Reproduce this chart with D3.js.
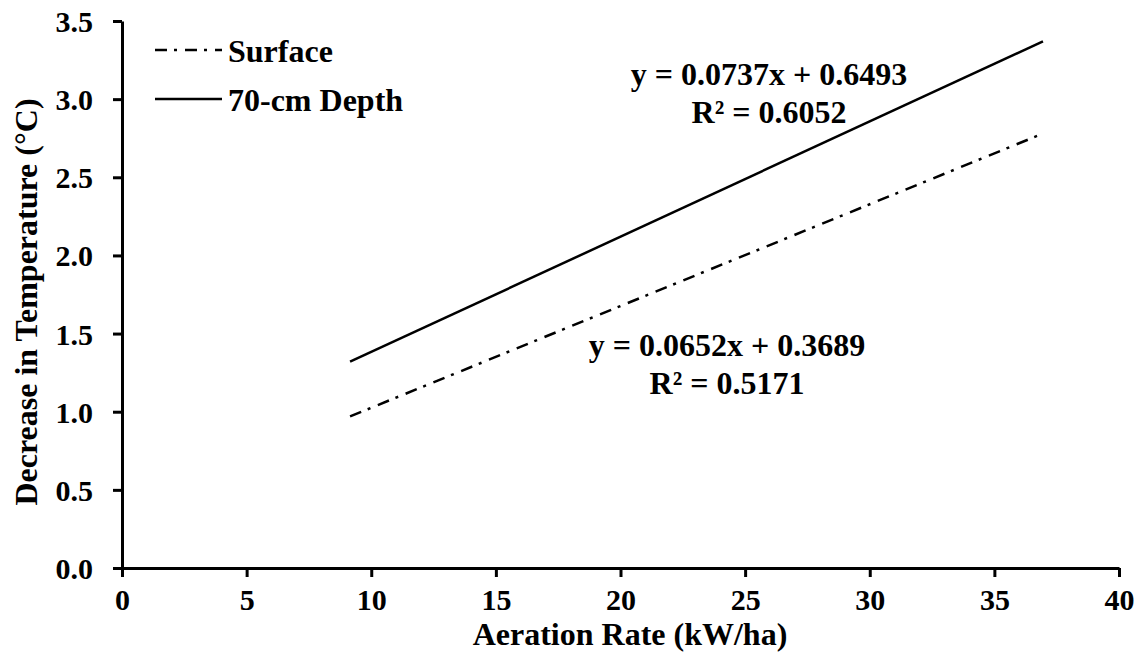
<!DOCTYPE html>
<html>
<head>
<meta charset="utf-8">
<script src="https://cdn.jsdelivr.net/npm/d3@7"></script>
<style>
  body { margin: 0; background: #fff; }
  text { font-family: "Liberation Serif", "Times New Roman", serif; font-weight: bold; fill: #000; }
</style>
</head>
<body>
<script>
// trend line end points
const aerationRate = [9.15, 36.95];
const surfaceDrop = [0.97, 2.78];
const depthDrop = [1.32, 3.37];
const xTicks = [0, 5, 10, 15, 20, 25, 30, 35, 40];
const yTicks = [0, 0.5, 1, 1.5, 2, 2.5, 3, 3.5];
const seriesNames = ['Surface', '70-cm Depth'];
const equations = [
  ['y = 0.0652x + 0.3689', 'R\u00b2 = 0.5171'],
  ['y = 0.0737x + 0.6493', 'R\u00b2 = 0.6052']
];

const width = 1144, height = 661;
const plotLeft = 122, plotRight = 1119, plotTop = 21, plotBottom = 568;

const svg = d3.select('body')
  .append('svg')
  .attr('width', width)
  .attr('height', height);

const x = d3.scaleLinear().domain([0, 40]).range([plotLeft, plotRight]);
const y = d3.scaleLinear().domain([0, 3.5]).range([plotBottom, plotTop]);

const xAxis = svg.append('g')
  .attr('transform', `translate(0,${plotBottom})`)
  .call(d3.axisBottom(x).tickValues(xTicks).tickSize(9).tickPadding(12).tickSizeOuter(0).tickFormat(d3.format('d')));
const yAxis = svg.append('g')
  .attr('transform', `translate(${plotLeft},0)`)
  .call(d3.axisLeft(y).tickValues(yTicks).tickSize(9).tickPadding(20).tickSizeOuter(0).tickFormat(d3.format('.1f')));

[xAxis, yAxis].forEach(function(g) {
  g.select('.domain').attr('stroke', '#000').attr('stroke-width', 3);
  g.selectAll('.tick line').attr('stroke', '#000').attr('stroke-width', 3);
  g.selectAll('.tick text').style('font-size', '30px').attr('fill', '#000');
});
xAxis.selectAll('.tick text').attr('dy', '0.71em');
yAxis.selectAll('.tick text').attr('dy', '0.35em');

const line = d3.line()
  .x(d => x(d[0]))
  .y(d => y(d[1]));

const series = [
  { name: seriesNames[0], values: d3.zip(aerationRate, surfaceDrop), dash: '12,7,3,8' },
  { name: seriesNames[1], values: d3.zip(aerationRate, depthDrop), dash: null }
];

svg.selectAll('path.trend')
  .data(series)
  .enter()
  .append('path')
  .attr('class', 'trend')
  .attr('d', d => line(d.values))
  .attr('fill', 'none')
  .attr('stroke', '#000')
  .attr('stroke-width', 2.5)
  .attr('stroke-dasharray', d => d.dash);

// legend
const legend = svg.append('g');
series.forEach(function(s, i) {
  const ly = 50 + i * 49;
  legend.append('line')
    .attr('x1', 155).attr('x2', 222)
    .attr('y1', ly).attr('y2', ly)
    .attr('stroke', '#000')
    .attr('stroke-width', 2.5)
    .attr('stroke-dasharray', s.dash);
  legend.append('text')
    .attr('x', 228).attr('y', ly + 12)
    .style('font-size', '32px')
    .text(s.name);
});

// trend equations
const eqPos = [[727, 356], [769, 85]];
equations.forEach(function(eq, i) {
  eq.forEach(function(t, j) {
    svg.append('text')
      .attr('x', eqPos[i][0])
      .attr('y', eqPos[i][1] + j * 38)
      .attr('text-anchor', 'middle')
      .style('font-size', '32px')
      .text(t);
  });
});

svg.append('text')
  .attr('x', 630).attr('y', 645)
  .attr('text-anchor', 'middle')
  .style('font-size', '32px')
  .text('Aeration Rate (kW/ha)');

svg.append('text')
  .attr('transform', 'translate(37,302) rotate(-90)')
  .attr('text-anchor', 'middle')
  .style('font-size', '32px')
  .text('Decrease in Temperature (\u00b0C)');
</script>
</body>
</html>
